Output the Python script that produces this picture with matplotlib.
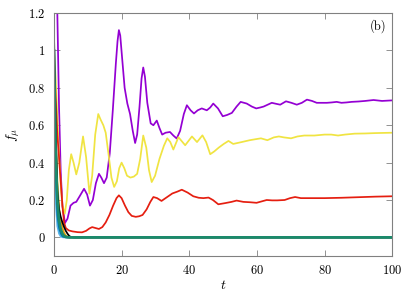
import matplotlib

matplotlib.use("Agg")

import matplotlib.pyplot as plt

plt.rcParams["mathtext.fontset"] = "cm"
plt.rcParams["font.family"] = ["serif"]
plt.rcParams["font.serif"] = ["cmr10", "DejaVu Serif"]

# --- data ---
t_purple = [0, 0.5, 1, 1.5, 2, 2.5, 3.25, 4, 4.9, 5.8, 6.6, 7.6, 8.9, 9.8, 10.65, 11.5,
            12.4, 13.3, 14, 14.8, 15.6, 16.5, 17.4, 18.3, 18.8, 19.2, 19.6, 20.2, 20.9,
            21.7, 22.5, 23.3, 24, 24.6, 25.3, 25.9, 26.4, 26.9, 27.6, 28.6, 29.4, 30.4,
            31.2, 32, 33, 34.3, 35.3, 36.3, 37.3, 38.4, 39.3, 40.4, 41.4, 42.5, 43.7, 45.2,
            46.2, 47.1, 48.5, 49.9, 51.2, 52.6, 54, 55.2, 57, 58.5, 59.8, 61, 62, 63.2,
            64.4, 65.6, 66.9, 68.6, 70.2, 71.8, 73.3, 74.8, 76.3, 77.7, 79.2, 80.7, 82.1,
            83.6, 85, 86.5, 88, 90, 92, 94.5, 97, 100]
f_purple = [2.2, 1.7, 1.2, 0.7, 0.35, 0.17, 0.077, 0.10, 0.17, 0.185, 0.19, 0.22, 0.26,
            0.23, 0.17, 0.20, 0.29, 0.34, 0.32, 0.29, 0.32, 0.45, 0.68, 0.93, 1.05, 1.109,
            1.08, 0.95, 0.80, 0.716, 0.66, 0.57, 0.505, 0.55, 0.70, 0.85, 0.909, 0.86, 0.72,
            0.61, 0.60, 0.625, 0.585, 0.55, 0.56, 0.564, 0.545, 0.529, 0.57, 0.66, 0.707,
            0.68, 0.663, 0.68, 0.69, 0.68, 0.695, 0.716, 0.69, 0.648, 0.655, 0.666, 0.70,
            0.725, 0.716, 0.70, 0.69, 0.695, 0.70, 0.71, 0.72, 0.715, 0.71, 0.728, 0.72,
            0.71, 0.72, 0.737, 0.73, 0.72, 0.72, 0.72, 0.722, 0.725, 0.72, 0.722, 0.725,
            0.727, 0.73, 0.735, 0.73, 0.733]

t_yellow = [0, 0.5, 1, 1.5, 2, 2.5, 3.2, 3.8, 4.4, 5.1, 5.8, 6.6, 7.5, 8.6, 9.5, 10.5,
            11.3, 12.2, 13.1, 13.8, 14.6, 15.3, 16.1, 17, 17.8, 18.6, 19.3, 20, 20.8, 21.6,
            22.6, 23.6, 24.6, 25.5, 26.4, 27.3, 28.1, 28.9, 29.9, 31.2, 32.5, 33.5, 34.4,
            35.3, 36.8, 38.8, 40.8, 42.3, 43.9, 45, 46.2, 47.4, 48.7, 50.2, 51.6, 53, 55.5,
            57.9, 59.5, 61.2, 63.1, 65, 66.5, 68, 70.1, 72, 74, 77, 80, 82, 84, 86, 88.9,
            92, 95, 100]
f_yellow = [1.0, 0.85, 0.65, 0.45, 0.28, 0.17, 0.127, 0.20, 0.36, 0.445, 0.40, 0.337,
            0.40, 0.54, 0.43, 0.234, 0.33, 0.55, 0.66, 0.63, 0.60, 0.56, 0.45, 0.32, 0.27,
            0.30, 0.37, 0.40, 0.37, 0.33, 0.32, 0.325, 0.34, 0.42, 0.545, 0.48, 0.36, 0.296,
            0.33, 0.42, 0.49, 0.53, 0.51, 0.47, 0.536, 0.493, 0.54, 0.51, 0.546, 0.51,
            0.445, 0.46, 0.48, 0.50, 0.516, 0.50, 0.51, 0.52, 0.525, 0.53, 0.52, 0.535,
            0.54, 0.535, 0.53, 0.54, 0.545, 0.545, 0.55, 0.55, 0.545, 0.55, 0.555, 0.556,
            0.558, 0.56]

t_red = [0, 0.5, 1, 1.5, 2, 2.5, 3, 3.5, 4.4, 5.5, 7, 8.3, 9.5, 10.5, 11.3, 12.3, 13.3,
         14.3, 15.3, 16.4, 17.5, 18.5, 19.2, 20, 21, 22, 23, 24.2, 25.2, 26.2, 27.4, 28.5,
         29.4, 30.5, 31.8, 33, 35, 36.5, 37.8, 39.5, 41.2, 42.8, 44.2, 45.7, 47, 48.6, 50.5,
         52.5, 54, 56, 58, 59.9, 61.5, 62.9, 64.5, 66, 68.2, 69.8, 71.3, 73, 76, 80, 85,
         90, 95, 100]
f_red = [0.95, 0.75, 0.55, 0.43, 0.30, 0.17, 0.08, 0.05, 0.037, 0.032, 0.028, 0.027, 0.035,
         0.048, 0.055, 0.05, 0.045, 0.055, 0.08, 0.12, 0.17, 0.21, 0.225, 0.21, 0.17, 0.135,
         0.115, 0.11, 0.113, 0.12, 0.15, 0.19, 0.216, 0.21, 0.195, 0.21, 0.235, 0.245,
         0.255, 0.24, 0.22, 0.212, 0.21, 0.213, 0.20, 0.177, 0.183, 0.19, 0.197, 0.19,
         0.188, 0.185, 0.193, 0.20, 0.198, 0.198, 0.20, 0.21, 0.216, 0.21, 0.21, 0.21,
         0.212, 0.215, 0.218, 0.22]

# quickly decaying modes
t_fast = [0, 0.5, 1, 1.5, 2, 2.5, 3, 3.5, 4, 4.5, 5, 6, 100]
f_skyblue = [0.6, 0.2, 0.06, 0.02, 0.005, 0.001, 0, 0, 0, 0, 0, 0, 0]
f_orange = [0.9, 0.55, 0.3, 0.16, 0.09, 0.05, 0.025, 0.01, 0.004, 0, 0, 0, 0]
f_blue = [0.8, 0.35, 0.12, 0.05, 0.02, 0.006, 0.002, 0, 0, 0, 0, 0, 0]
f_black = [1.1, 0.6, 0.25, 0.15, 0.11, 0.08, 0.055, 0.035, 0.02, 0.008, 0.002, 0, 0]
f_green = [1.0, 0.45, 0.2, 0.09, 0.045, 0.02, 0.008, 0.003, 0.001, 0, 0, 0, 0]

yticks = [0, 0.2, 0.4, 0.6, 0.8, 1.0, 1.2]
ytick_labels = ["0", "0.2", "0.4", "0.6", "0.8", "1", "1.2"]
xticks = [0, 20, 40, 60, 80, 100]

fig = plt.figure(figsize=(4.15, 2.91), dpi=100)
ax = fig.add_axes([0.130, 0.120, 0.815, 0.835])

style = dict(lw=1.25, solid_joinstyle="round", solid_capstyle="round")
ax.plot(t_purple, f_purple, color="#9400d3", **style)
ax.plot(t_fast, f_skyblue, color="#56b4e9", **style)
ax.plot(t_fast, f_orange, color="#e69f00", **style)
ax.plot(t_yellow, f_yellow, color="#f0e442", **style)
ax.plot(t_fast, f_blue, color="#0072b2", **style)
ax.plot(t_red, f_red, color="#e51e10", **style)
ax.plot(t_fast, f_black, color="black", **style)
ax.plot(t_fast, f_green, color="#1b8a6b", lw=2.0, solid_joinstyle="round")

ax.set_xlim(0, 100)
ax.set_ylim(-0.1, 1.2)
ax.set_xticks(xticks)
ax.set_xticklabels([f"${v}$" for v in xticks])
ax.set_yticks(yticks)
ax.set_yticklabels([f"${s}$" for s in ytick_labels])
ax.tick_params(direction="in", top=True, right=True, length=4, width=0.6,
               color="#808080", labelsize=9, pad=6)
for spine in ax.spines.values():
    spine.set_color("#808080")
    spine.set_linewidth(0.8)

ax.set_xlabel(r"$t$", fontsize=10, labelpad=1)
ax.set_ylabel(r"$f_\mu$", fontsize=10, labelpad=4)
ax.text(0.982, 0.975, "(b)", transform=ax.transAxes, ha="right", va="top",
        fontsize=9)

fig.savefig("out.png", dpi=100)
